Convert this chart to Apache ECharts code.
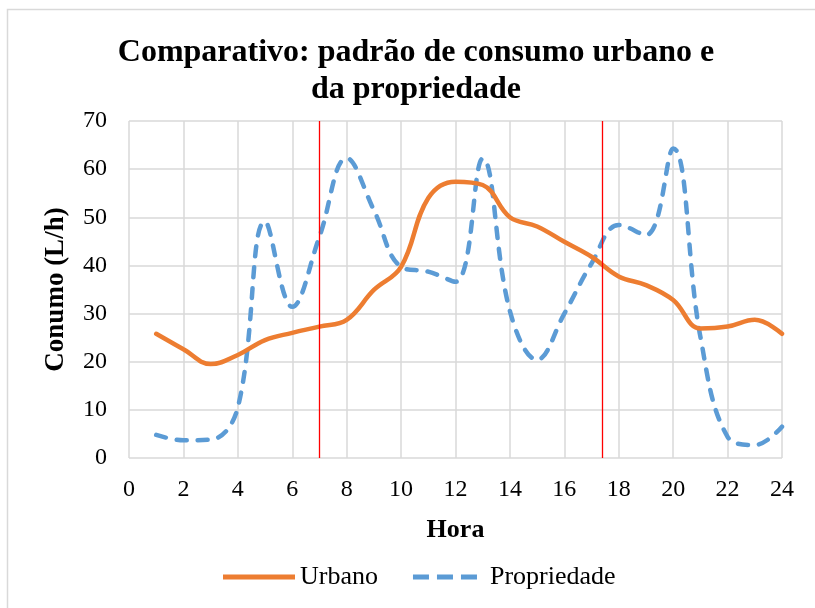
<!DOCTYPE html>
<html>
<head>
<meta charset="utf-8">
<script src="https://cdn.jsdelivr.net/npm/echarts@6/dist/echarts.min.js"></script>
<style>
  html, body { margin: 0; padding: 0; background: #fff; }
  #chart { width: 815px; height: 608px; }
</style>
</head>
<body>
<div id="chart"></div>
<script>
var hours = [1, 2, 3, 4, 5, 6, 7, 8, 9, 10, 11, 12, 13, 14, 15, 16, 17, 18, 19, 20, 21, 22, 23, 24];
var urbano = [25.8, 22.6, 19.5, 21.4, 24.5, 26.0, 27.3, 28.7, 34.9, 39.7, 54.0, 57.4, 56.7, 50.0, 48.1, 44.9, 41.8, 37.7, 35.9, 32.8, 26.9, 27.3, 28.7, 25.8];
var propriedade = [4.8, 3.7, 3.8, 10.5, 49.1, 31.4, 46.0, 62.3, 51.5, 39.7, 38.7, 36.6, 62.2, 30.5, 20.4, 30.0, 40.4, 48.4, 46.3, 64.3, 25.2, 4.4, 2.7, 6.5];
var marcos = [7, 17.4];

var serif = '"Liberation Serif", "DejaVu Serif", serif';

function pares(vals) {
    return hours.map(function (h, i) { return [h, vals[i]]; });
}

// icone tracejado da legenda (o ultimo trecho vazio so serve para manter a largura)
var iconeTraco = 'path://M0,0 h16 v5 h-16 Z M24,0 h16 v5 h-16 Z M48,0 h16 v5 h-16 Z M72,0 L72,5 L72,5 Z';

var chart = echarts.init(document.getElementById('chart'));
var option = {
    animation: false,
    backgroundColor: '#fff',
    textStyle: { fontFamily: serif },
    graphic: [{
        type: 'rect',
        shape: { x: 7.5, y: 9.5, width: 830, height: 640 },
        style: { fill: 'none', stroke: '#d9d9d9', lineWidth: 1.5 },
        silent: true
    }],
    title: {
        text: 'Comparativo: padrão de consumo urbano e\nda propriedade',
        left: 411,
        textAlign: 'center',
        top: 29,
        textStyle: { fontFamily: serif, fontSize: 32, fontWeight: 'bold', color: '#000', lineHeight: 37 }
    },
    legend: {
        bottom: 13,
        left: 218,
        itemWidth: 72,
        itemHeight: 5,
        itemGap: 35,
        textStyle: { fontFamily: serif, fontSize: 26, color: '#000' },
        data: [
            { name: 'Urbano', icon: 'rect' },
            { name: 'Propriedade', icon: iconeTraco }
        ]
    },
    grid: { left: 129, right: 33, top: 121, bottom: 150 },
    xAxis: {
        type: 'value',
        min: 0,
        max: 24,
        interval: 2,
        name: 'Hora',
        nameLocation: 'middle',
        nameGap: 59,
        nameTextStyle: { fontFamily: serif, fontSize: 26, fontWeight: 'bold', color: '#000' },
        axisLine: { show: false },
        axisTick: { show: false },
        axisLabel: { fontFamily: serif, fontSize: 24, color: '#000', margin: 20 },
        splitLine: { lineStyle: { color: '#d9d9d9', width: 1.5 } }
    },
    yAxis: {
        type: 'value',
        min: 0,
        max: 70,
        interval: 10,
        name: 'Conumo (L/h)',
        nameLocation: 'middle',
        nameGap: 59,
        nameTextStyle: { fontFamily: serif, fontSize: 27, fontWeight: 'bold', color: '#000' },
        axisLine: { show: false },
        axisTick: { show: false },
        axisLabel: { fontFamily: serif, fontSize: 24, color: '#000', margin: 22 },
        splitLine: { lineStyle: { color: '#d9d9d9', width: 1.5 } }
    },
    series: [
        {
            name: 'Urbano',
            type: 'line',
            data: pares(urbano),
            smooth: 0.4,
            symbol: 'none',
            lineStyle: { color: '#ED7D31', width: 4.5, cap: 'round' },
            itemStyle: { color: '#ED7D31' },
            z: 3
        },
        {
            name: 'Propriedade',
            type: 'line',
            data: pares(propriedade),
            smooth: 0.4,
            symbol: 'none',
            lineStyle: { color: '#5B9BD5', width: 4.5, type: [10, 11], cap: 'round' },
            itemStyle: { color: '#5B9BD5' },
            z: 2,
            markLine: {
                silent: true,
                symbol: 'none',
                label: { show: false },
                lineStyle: { color: '#ff0000', width: 1.3, type: 'solid' },
                data: marcos.map(function (m) { return { xAxis: m }; })
            }
        }
    ]
};
chart.setOption(option);
</script>
</body>
</html>
